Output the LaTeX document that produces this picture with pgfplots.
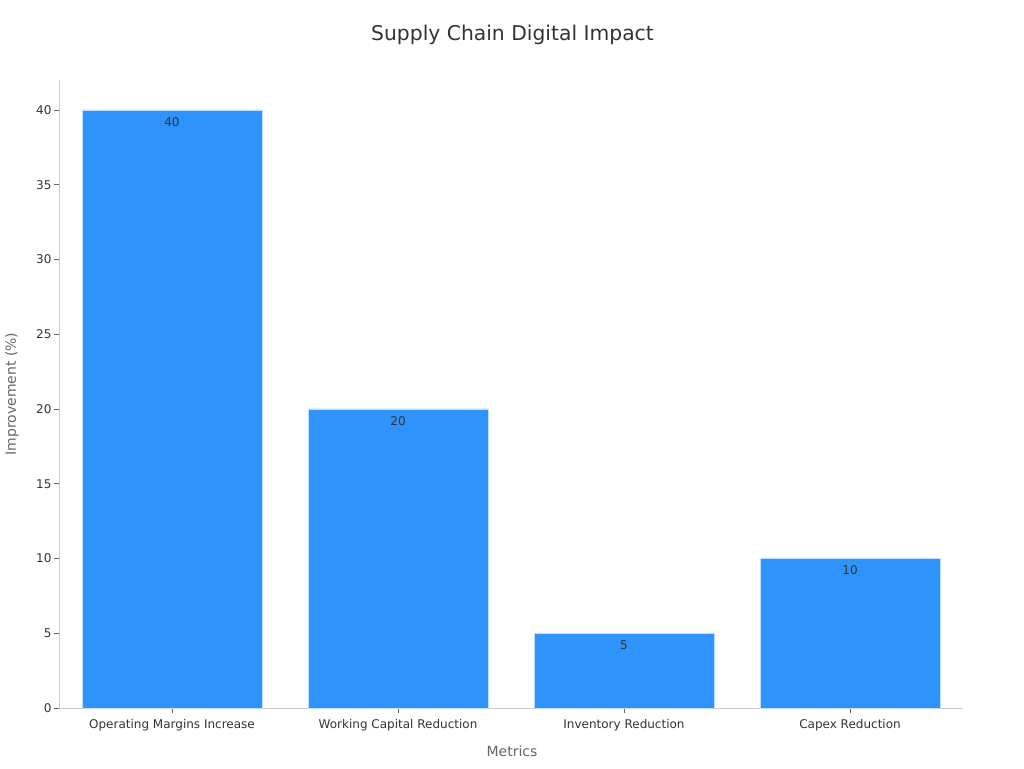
\documentclass[border=0pt]{standalone}
\usepackage{pgfplots}
\pgfplotsset{compat=1.18}
\usepackage{fontspec}
\setmainfont{DejaVu Sans}
\definecolor{barblue}{HTML}{2E93FA}
\definecolor{axgrey}{HTML}{CCCCCC}
\definecolor{txt}{HTML}{333333}
\definecolor{lbl}{HTML}{666666}
\begin{document}
\begin{tikzpicture}[x=1pt,y=1pt]
\useasboundingbox (0,0) rectangle (1024,768);
\node[font=\fontsize{20.3}{24}\selectfont, text=txt] at (512.5,733) {Supply Chain Digital Impact};
\node[font=\fontsize{14}{16}\selectfont, text=lbl] at (512,17) {Metrics};
\node[font=\fontsize{14}{16}\selectfont, text=lbl, rotate=90] at (12,374) {Improvement (\%)};
\begin{axis}[
  at={(59pt,60pt)}, anchor=south west,
  scale only axis, width=904pt, height=628pt,
  xmin=-0.5, xmax=3.5, ymin=0, ymax=42,
  axis x line*=bottom, axis y line*=left,
  axis line style={axgrey, line width=0.8pt},
  xtick=data,
  xticklabels={Operating Margins Increase, Working Capital Reduction, Inventory Reduction, Capex Reduction},
  ytick={0,5,...,40},
  tick style={lbl, line width=0.8pt},
  tick align=outside,
  major tick length=5pt,
  ticklabel style={font=\fontsize{12}{14}\selectfont, text=txt},
  xticklabel style={yshift=-3pt},
  yticklabel style={xshift=1pt},
  /pgf/number format/assume math mode=true,
  ybar, bar width=180pt,
  nodes near coords,
  every node near coord/.append style={font=\fontsize{12}{14}\selectfont, text=txt, anchor=north, yshift=-3.5pt},
]
\addplot[fill=barblue, draw=white!70!barblue, line width=0.8pt] coordinates {(0,40) (1,20) (2,5) (3,10)};
\end{axis}
\end{tikzpicture}
\end{document}
